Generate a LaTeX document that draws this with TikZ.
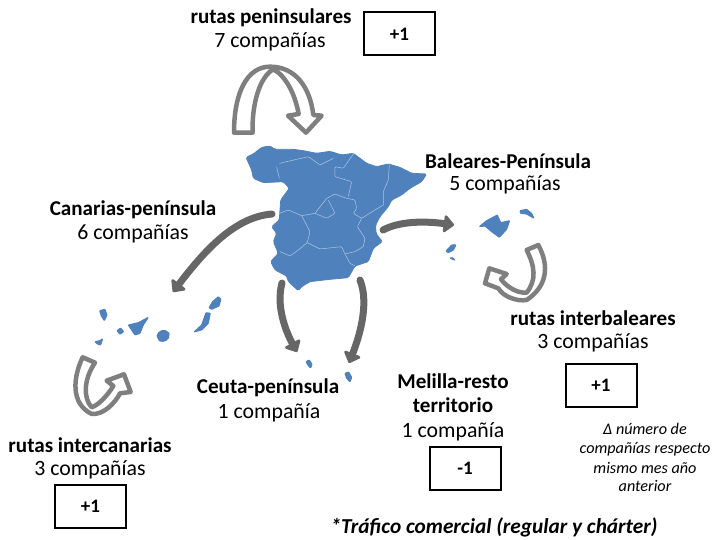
\documentclass[tikz,border=0pt]{standalone}
\usepackage{fontspec}
\setmainfont{Carlito}
\usetikzlibrary{arrows.meta}
\definecolor{mapblue}{HTML}{4F81BD}
\definecolor{lightgrey}{HTML}{7F7F7F}
\definecolor{darkgrey}{HTML}{666666}
\tikzset{
  head/.style={font=\fontsize{21.1}{24}\selectfont\bfseries,inner sep=0pt,anchor=center,yshift=-1pt},
  count/.style={font=\fontsize{21.8}{24}\selectfont,inner sep=0pt,anchor=center,yshift=-1pt},
  valbox/.style={draw=black,line width=2pt,minimum width=71pt,minimum height=43pt,inner sep=0pt,font=\fontsize{19}{22}\selectfont\bfseries},
  note/.style={font=\fontsize{16.2}{18}\selectfont\itshape,inner sep=0pt,anchor=center},
  land/.style={fill=mapblue,draw=mapblue,line width=0.8pt,rounded corners=1.5pt},
  island/.style={fill=mapblue,draw=mapblue,line width=1pt,rounded corners=0.6pt,line join=round},
  border/.style={draw=white!55!mapblue,line width=0.5pt,rounded corners=1pt},
  hollow/.style={fill=white,draw=lightgrey,line width=4.5pt,line join=round},
  solidarrow/.style={draw=darkgrey,line width=7pt,line cap=round,-{Triangle[length=11pt,width=20pt,round]},color=darkgrey}
}
\begin{document}
\begin{tikzpicture}[x=1pt,y=-1pt]
\useasboundingbox (0,0) rectangle (712,540);
% Spain
\begin{scope}[shift={(220,50)},x=0.3333pt,y=-0.3333pt]
\path[land] (78,322)--(100,312)--(125,292)--(150,288)--(165,298)--(220,298)--(250,302)--(290,310)--(330,304)--(365,315)--(400,310)--(440,340)--(470,350)--(505,342)--(540,352)--(575,370)--(620,372)--(605,395)--(570,415)--(545,435)--(515,450)--(505,470)--(480,500)--(467,525)--(468,550)--(487,575)--(460,595)--(445,635)--(405,648)--(385,683)--(330,688)--(270,695)--(245,710)--(235,722)--(205,695)--(200,678)--(165,660)--(152,635)--(175,610)--(160,575)--(170,550)--(155,530)--(178,510)--(182,450)--(208,415)--(190,395)--(130,398)--(100,385)--(95,360)--cycle;
\draw[border] (508,345)--(505,390)--(490,425)--(490,465);
\draw[border] (178,490)--(205,480)--(245,497)--(285,490)--(320,445)--(345,432)--(380,445)--(405,450)--(410,475)--(400,490)--(425,505)--(465,480)--(490,465);
\draw[border] (425,505)--(412,530)--(435,565)--(430,590)--(405,605)--(375,612)--(390,640)--(405,648);
\draw[border] (245,497)--(270,545)--(262,578)--(235,600)--(210,618)--(180,605);
\draw[border] (262,578)--(300,597)--(365,590)--(375,612);
\draw[border] (170,350)--(178,385);
\draw[border] (178,340)--(265,320)--(300,345)--(340,325);
\draw[border] (400,312)--(370,355)--(345,350)--(345,380)--(395,395)--(385,440);
\draw[border] (285,490)--(320,505)--(345,490)--(325,450);
\end{scope}
% Canaries
\begin{scope}[shift={(60,210)},x=0.3333pt,y=-0.3333pt]
\path[island] (119,302)--(135,298)--(141,315)--(133,332)--(124,318)--cycle;
\path[island] (171,362)--(182,354)--(191,365)--(180,373)--cycle;
\path[island] (205,345)--(235,338)--(265,322)--(250,345)--(240,370)--(225,375)--cycle;
\path[island] (105,395)--(120,392)--(128,386)--(122,405)--(112,402)--cycle;
\path[island] (291,378) .. controls (295,362) and (315,355) .. (327,370) .. controls (330,390) and (310,398) .. (298,392) --cycle;
\path[island] (402,366)--(425,345)--(438,308)--(451,310)--(445,340)--(425,360)--cycle;
\path[island] (447,293)--(458,275)--(475,260)--(483,268)--(477,288)--(455,298)--cycle;
\end{scope}
% Baleares
\begin{scope}[shift={(370,190)},x=0.3333pt,y=-0.3333pt]
\path[island] (328,110)--(350,92)--(382,75)--(392,98)--(419,92)--(410,118)--(388,142)--(365,125)--(345,108)--cycle;
\path[island] (450,62)--(470,58)--(485,70)--(492,85)--(470,72)--(452,70)--cycle;
\path[island] (228,183)--(245,165)--(258,165)--(250,180)--(235,188)--cycle;
\path[island] (240,204)--(248,203)--(255,211)--(246,207)--cycle;
\end{scope}
% Ceuta, Melilla
\begin{scope}[shift={(270,270)},x=0.3333pt,y=-0.3333pt]
\path[island] (108,275)--(118,270)--(126,283)--(122,294)--(115,287)--cycle;
\path[island] (225,310)--(236,306)--(245,322)--(240,336)--(230,325)--cycle;
\end{scope}
% Named ends of the connectors
\coordinate (canTail) at (272,214);
\coordinate (canEnd) at (173,292);
\coordinate (ceuTail) at (282,283);
\coordinate (ceuEnd) at (297,352);
\coordinate (melTail) at (360,280);
\coordinate (melEnd) at (349,363);
\coordinate (balTail) at (383,230);
\coordinate (balEnd) at (454,225);
\draw[solidarrow] (canTail) .. controls (235,217) and (205,250) .. (canEnd);
\draw[solidarrow] (ceuTail) .. controls (276,305) and (285,330) .. (ceuEnd);
\draw[solidarrow] (melTail) .. controls (370,305) and (358,340) .. (melEnd);
\draw[solidarrow] (balTail) .. controls (400,221) and (425,221) .. (balEnd);
% Hollow arrows
\begin{scope}[shift={(220,50)},x=0.3333pt,y=-0.3333pt]
\draw[hollow] (42,248) .. controls (42,130) and (80,50) .. (150,50) .. controls (225,50) and (270,110) .. (280,195) -- (305,197) -- (258,248) -- (204,197) -- (236,192) .. controls (225,130) and (195,75) .. (160,58) .. controls (120,80) and (95,160) .. (98,248) -- cycle;
\end{scope}
\begin{scope}[shift={(60,210)},x=0.3333pt,y=-0.3333pt]
\draw[hollow] (68,442) .. controls (40,500) and (30,580) .. (95,612) .. controls (130,615) and (165,580) .. (180,550) -- (212,546) -- (192,493) -- (140,512) -- (160,528) .. controls (140,560) and (115,585) .. (95,592) .. controls (70,565) and (70,510) .. (105,458) -- cycle;
\end{scope}
\begin{scope}[shift={(370,190)},x=0.3333pt,y=-0.3333pt]
\draw[hollow] (505,165) .. controls (540,230) and (530,290) .. (470,330) .. controls (440,335) and (400,320) .. (385,295) -- (345,280) -- (358,235) -- (410,252) -- (393,268) .. controls (410,290) and (440,310) .. (470,308) .. controls (500,270) and (495,230) .. (470,180) -- cycle;
\end{scope}
% Labels
\node[head] (t1) at (271,17) {rutas peninsulares};
\node[count] (t2) at (270,41) {7 compañías};
\node[valbox] (b1) at (399.5,34) {+1};
\node[head] (t3) at (508,160) {Baleares-Península};
\node[count] (t4) at (505,184) {5 compañías};
\node[head] (t5) at (133,209) {Canarias-península};
\node[count] (t6) at (133,233) {6 compañías};
\node[head] (t7) at (593,317) {rutas interbaleares};
\node[count] (t8) at (593,342) {3 compañías};
\node[valbox] (b2) at (601,385) {+1};
\node[note] (n1) at (645,429) {Δ número de};
\node[note] (n2) at (645,449) {compañías respecto};
\node[note] (n3) at (645,468) {mismo mes año};
\node[note] (n4) at (645,486) {anterior};
\node[head] (t9) at (453,380) {Melilla-resto};
\node[head] (t10) at (453,404) {territorio};
\node[count] (t11) at (453,431) {1 compañía};
\node[valbox] (b3) at (465,468) {-1};
\node[head] (t12) at (268,387) {Ceuta-península};
\node[count] (t13) at (269,412) {1 compañía};
\node[head] (t14) at (90,444) {rutas intercanarias};
\node[count] (t15) at (90,469) {3 compañías};
\node[valbox] (b4) at (90.5,506) {+1};
\node[inner sep=0pt,yshift=-1pt,font=\fontsize{21.3}{24}\selectfont\bfseries\itshape] (t16) at (494,526) {*Tráfico comercial (regular y chárter)};
\end{tikzpicture}
\end{document}
